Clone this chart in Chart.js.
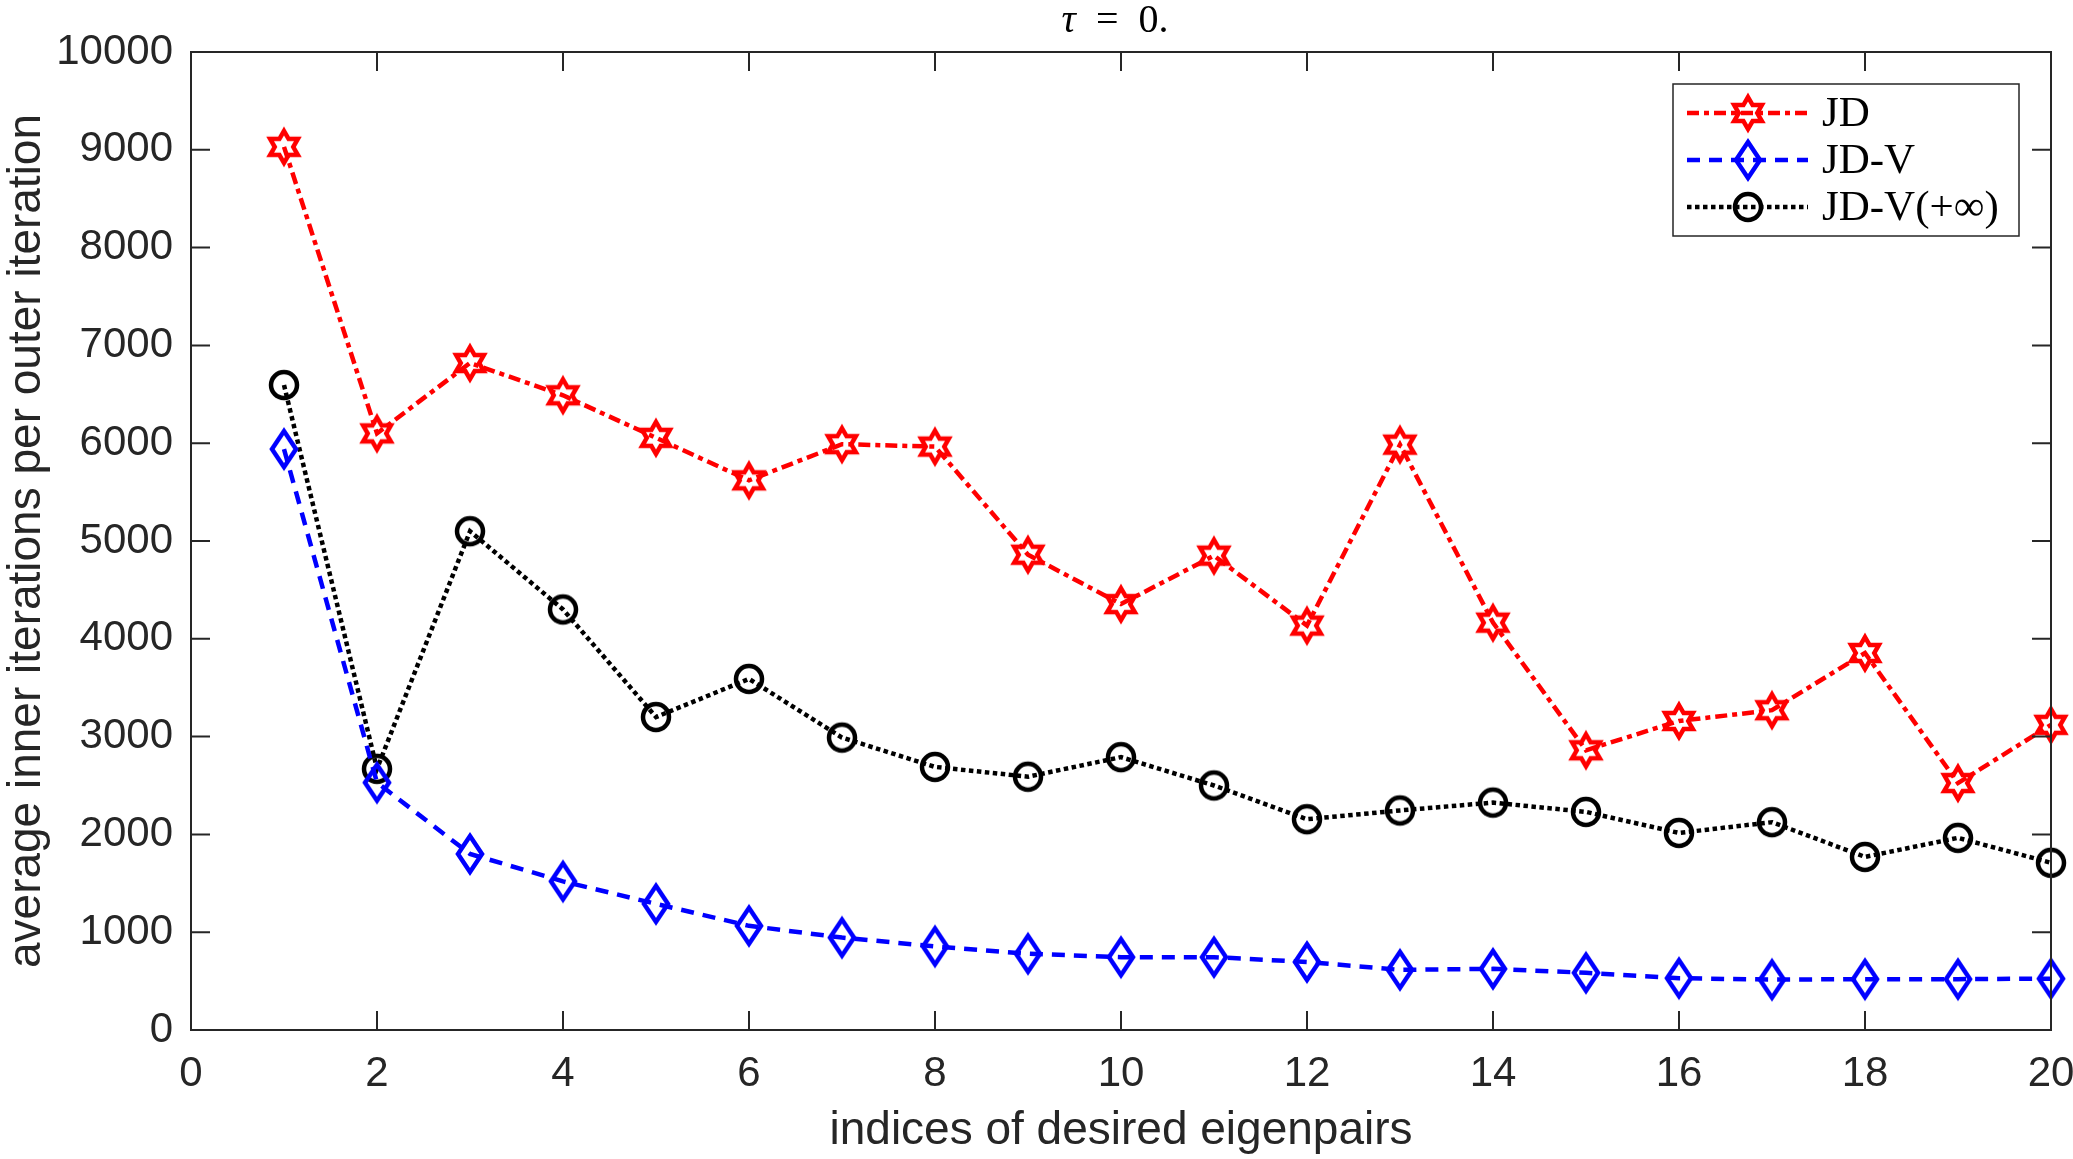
<!DOCTYPE html>
<html>
<head>
<meta charset="utf-8">
<script src="https://cdn.jsdelivr.net/npm/chart.js@4"></script>
<style>
  body { margin: 0; background: #fff; }
  canvas { display: block; }
</style>
</head>
<body>
<canvas id="chart" width="2073" height="1159"></canvas>
<script>
// data
const indices = [1, 2, 3, 4, 5, 6, 7, 8, 9, 10, 11, 12, 13, 14, 15, 16, 17, 18, 19, 20];
const jd = [9030, 6100, 6820, 6490, 6055, 5620, 5990, 5965, 4860, 4355, 4850, 4135, 5985, 4165, 2860, 3160, 3270, 3855, 2525, 3120];
const jdV = [5940, 2530, 1800, 1520, 1290, 1065, 945, 855, 780, 745, 745, 695, 615, 625, 585, 530, 515, 520, 520, 525];
const jdVInf = [6595, 2670, 5100, 4300, 3200, 3590, 2990, 2690, 2590, 2790, 2500, 2155, 2245, 2325, 2230, 2015, 2125, 1770, 1965, 1710];
const xTicks = [0, 2, 4, 6, 8, 10, 12, 14, 16, 18, 20];
const yTicks = [0, 1000, 2000, 3000, 4000, 5000, 6000, 7000, 8000, 9000, 10000];

const AXIS = '#262626';
const SANS = '"Liberation Sans", Arial, sans-serif';
const SERIF = '"Liberation Serif", "Times New Roman", serif';

// MATLAB-like hollow markers drawn on small canvases
function makeMarker(kind, color) {
    const c = document.createElement('canvas');
    c.width = 50; c.height = 50;
    const g = c.getContext('2d');
    g.strokeStyle = color;
    g.lineWidth = 4.5;
    g.lineJoin = 'miter';
    g.beginPath();
    if (kind === 'hex') {
        const R = 16, r = R / Math.sqrt(3);
        for (let k = 0; k < 12; k++) {
            const a = -Math.PI / 2 + k * Math.PI / 6;
            const rad = k % 2 === 0 ? R : r;
            const px = 25 + rad * Math.cos(a), py = 25 + rad * Math.sin(a);
            k === 0 ? g.moveTo(px, py) : g.lineTo(px, py);
        }
        g.closePath();
    } else if (kind === 'diamond') {
        g.moveTo(25, 7); g.lineTo(37, 25); g.lineTo(25, 43); g.lineTo(13, 25);
        g.closePath();
    } else {
        g.arc(25, 25, 13, 0, Math.PI * 2);
    }
    g.stroke();
    return c;
}

const toPoints = vals => indices.map((x, i) => ({ x: x, y: vals[i] }));

const datasets = [
    { label: 'JD', data: toPoints(jd), borderColor: '#ff0000', borderDash: [12, 5, 5, 5], pointStyle: makeMarker('hex', '#ff0000') },
    { label: 'JD-V', data: toPoints(jdV), borderColor: '#0000ff', borderDash: [13, 9], pointStyle: makeMarker('diamond', '#0000ff') },
    { label: 'JD-V(+∞)', data: toPoints(jdVInf), borderColor: '#000000', borderDash: [4.5, 3.5], pointStyle: makeMarker('circle', '#000000') }
].map(d => Object.assign(d, {
    borderWidth: 4.5, pointRadius: 15, tension: 0, fill: false, clip: false, borderCapStyle: 'butt'
}));

// title, box, inward ticks and legend
const matlabAxes = {
    id: 'matlabAxes',
    afterDraw(chart) {
        const { ctx, chartArea: a, scales } = chart;
        const tl = 19;
        ctx.save();

        // title: tau = 0.
        const cx = (a.left + a.right) / 2;
        ctx.fillStyle = '#000';
        ctx.textBaseline = 'middle';
        ctx.font = 'italic 40px ' + SERIF;
        const tauW = ctx.measureText('τ').width;
        ctx.font = '40px ' + SERIF;
        const rest = '  =  0.';
        const restW = ctx.measureText(rest).width;
        const tx = cx - (tauW + restW) / 2 - 6;
        ctx.font = 'italic 40px ' + SERIF;
        ctx.textAlign = 'left';
        ctx.fillText('τ', tx, 21);
        ctx.font = '40px ' + SERIF;
        ctx.fillText(rest, tx + tauW, 21);

        ctx.strokeStyle = AXIS;
        ctx.lineWidth = 2;
        ctx.setLineDash([]);
        ctx.strokeRect(a.left, a.top, a.right - a.left, a.bottom - a.top);
        ctx.beginPath();
        xTicks.forEach(v => {
            const px = scales.x.getPixelForValue(v);
            ctx.moveTo(px, a.bottom); ctx.lineTo(px, a.bottom - tl);
            ctx.moveTo(px, a.top); ctx.lineTo(px, a.top + tl);
        });
        yTicks.forEach(v => {
            const py = scales.y.getPixelForValue(v);
            ctx.moveTo(a.left, py); ctx.lineTo(a.left + tl, py);
            ctx.moveTo(a.right, py); ctx.lineTo(a.right - tl, py);
        });
        ctx.stroke();

        // legend
        const w = 346, h = 152;
        const lx = a.right - 32 - w, ly = a.top + 32;
        ctx.fillStyle = '#fff';
        ctx.fillRect(lx, ly, w, h);
        ctx.lineWidth = 1.5;
        ctx.strokeRect(lx, ly, w, h);
        ctx.font = '43px ' + SERIF;
        ctx.textBaseline = 'middle';
        chart.data.datasets.forEach((d, i) => {
            const yy = ly + 29 + i * 47;
            ctx.strokeStyle = d.borderColor;
            ctx.lineWidth = d.borderWidth;
            ctx.setLineDash(d.borderDash);
            ctx.beginPath();
            ctx.moveTo(lx + 14, yy); ctx.lineTo(lx + 135, yy);
            ctx.stroke();
            ctx.setLineDash([]);
            ctx.drawImage(d.pointStyle, lx + 75 - d.pointStyle.width / 2, yy - d.pointStyle.height / 2);
            ctx.fillStyle = '#000';
            ctx.fillText(d.label, lx + 149, yy + 2);
        });
        ctx.restore();
    }
};

new Chart(document.getElementById('chart'), {
    type: 'line',
    data: { datasets: datasets },
    options: {
        responsive: false,
        animation: false,
        layout: { padding: { left: 0, right: 22, top: 52, bottom: 0 } },
        plugins: {
            legend: { display: false },
            tooltip: { enabled: false }
        },
        scales: {
            x: {
                type: 'linear',
                min: 0, max: 20,
                afterBuildTicks: s => { s.ticks = xTicks.map(v => ({ value: v })); },
                afterFit: s => { s.height = 129; s.paddingLeft = 0; s.paddingRight = 0; },
                grid: { display: false, drawTicks: false },
                border: { display: false },
                ticks: { color: AXIS, padding: 19, font: { family: SANS, size: 42 }, maxRotation: 0, callback: v => String(v) },
                title: {
                    display: true, text: 'indices of desired eigenpairs', color: AXIS,
                    font: { family: SANS, size: 46 },
                    padding: { top: 0, bottom: 0 }
                }
            },
            y: {
                min: 0, max: 10000,
                afterBuildTicks: s => { s.ticks = yTicks.map(v => ({ value: v })); },
                afterFit: s => { s.width = 191; s.paddingTop = 0; s.paddingBottom = 0; },
                grid: { display: false, drawTicks: false },
                border: { display: false },
                ticks: { color: AXIS, padding: 18, font: { family: SANS, size: 42 }, callback: v => String(v) },
                title: {
                    display: true, text: 'average inner iterations per outer iteration', color: AXIS,
                    font: { family: SANS, size: 46 },
                    padding: { top: 0, bottom: 0 }
                }
            }
        }
    },
    plugins: [matlabAxes]
});
</script>
</body>
</html>
